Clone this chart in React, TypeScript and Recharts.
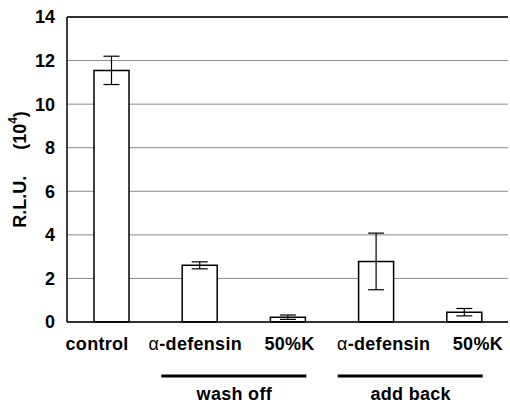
import React from "react";
import { BarChart, Bar, XAxis, YAxis, CartesianGrid, ErrorBar, ReferenceLine } from "recharts";

const categories = ["control", "α-defensin", "50%K", "α-defensin", "50%K"];
const means = [11.55, 2.6, 0.22, 2.78, 0.45];
const errors = [0.65, 0.16, 0.1, 1.3, 0.17];
const groups = [
  { label: "wash off", start: 1 },
  { label: "add back", start: 3 },
];
const yTicks = [0, 2, 4, 6, 8, 10, 12, 14];

const data = categories.map((name, i) => ({ key: `${name}-${i}`, name, mean: means[i], err: errors[i] }));

const FONT = "'Liberation Sans', Arial, sans-serif";
// small nudges so labels sit like the original print
const tickNudge = [-14, -4, 2, 8, 14];

function CategoryTick(props: any) {
  const { x, y, payload, index } = props;
  const name = categories[index] ?? payload.value;
  const group = groups.find((g) => g.start === index);
  const isAlpha = name.startsWith("α");
  return (
    <g>
      <text
        x={x + tickNudge[index]}
        y={y + 20}
        textAnchor="middle"
        fontFamily={FONT}
        fontWeight="bold"
        fontSize={18}
        letterSpacing={0.3}
        fill="#000"
      >
        {isAlpha ? (
          <>
            <tspan fontWeight="normal">α</tspan>
            <tspan>{name.slice(1)}</tspan>
          </>
        ) : (
          name
        )}
      </text>
      {group && (
        <g>
          <line x1={x - 38} x2={x + 107} y1={y + 46} y2={y + 46} stroke="#000" strokeWidth={3} />
          <text
            x={x + 35}
            y={y + 70}
            textAnchor="middle"
            fontFamily={FONT}
            fontWeight="bold"
            fontSize={18}
            letterSpacing={0.3}
            fill="#000"
          >
            {group.label}
          </text>
        </g>
      )}
    </g>
  );
}

function YLabel(props: any) {
  const { viewBox } = props;
  const cx = viewBox.x + 13;
  const cy = viewBox.y + viewBox.height / 2;
  return (
    <text
      x={cx}
      y={cy}
      transform={`rotate(-90, ${cx}, ${cy})`}
      textAnchor="middle"
      dominantBaseline="central"
      fontFamily={FONT}
      fontWeight="bold"
      fontSize={18}
      fill="#000"
    >
      <tspan>R.L.U.</tspan>
      <tspan dx={26}>(10</tspan>
      <tspan dy={-7} fontSize={12}>4</tspan>
      <tspan dy={7}>)</tspan>
    </text>
  );
}

export default function App() {
  return (
    <div style={{ position: "absolute", left: 0, top: 0, background: "#fff" }}>
      <BarChart
        width={510}
        height={405}
        data={data}
        margin={{ top: 17, right: 2, left: 7, bottom: 0 }}
        barSize={35}
      >
        <CartesianGrid vertical={false} stroke="#8a8a8a" strokeWidth={1} />
        <XAxis
          dataKey="key"
          height={83}
          tickLine={false}
          axisLine={{ stroke: "#000", strokeWidth: 1.5 }}
          tick={<CategoryTick />}
          interval={0}
        />
        <YAxis
          domain={[0, 14]}
          ticks={yTicks}
          width={60}
          tickLine={false}
          axisLine={{ stroke: "#000", strokeWidth: 1.5 }}
          tickMargin={6}
          tick={{ fontFamily: FONT, fontWeight: "bold", fontSize: 18, fill: "#000" }}
          label={<YLabel />}
        />
        <YAxis
          yAxisId="right"
          orientation="right"
          width={0}
          tick={false}
          tickLine={false}
          axisLine={{ stroke: "#000", strokeWidth: 1.5 }}
          domain={[0, 14]}
        />
        <ReferenceLine y={14} stroke="#000" strokeWidth={1.5} />
        <Bar dataKey="mean" fill="#fff" stroke="#000" strokeWidth={1.5} isAnimationActive={false}>
          <ErrorBar dataKey="err" width={8} stroke="#000" strokeWidth={1.2} />
        </Bar>
      </BarChart>
    </div>
  );
}
